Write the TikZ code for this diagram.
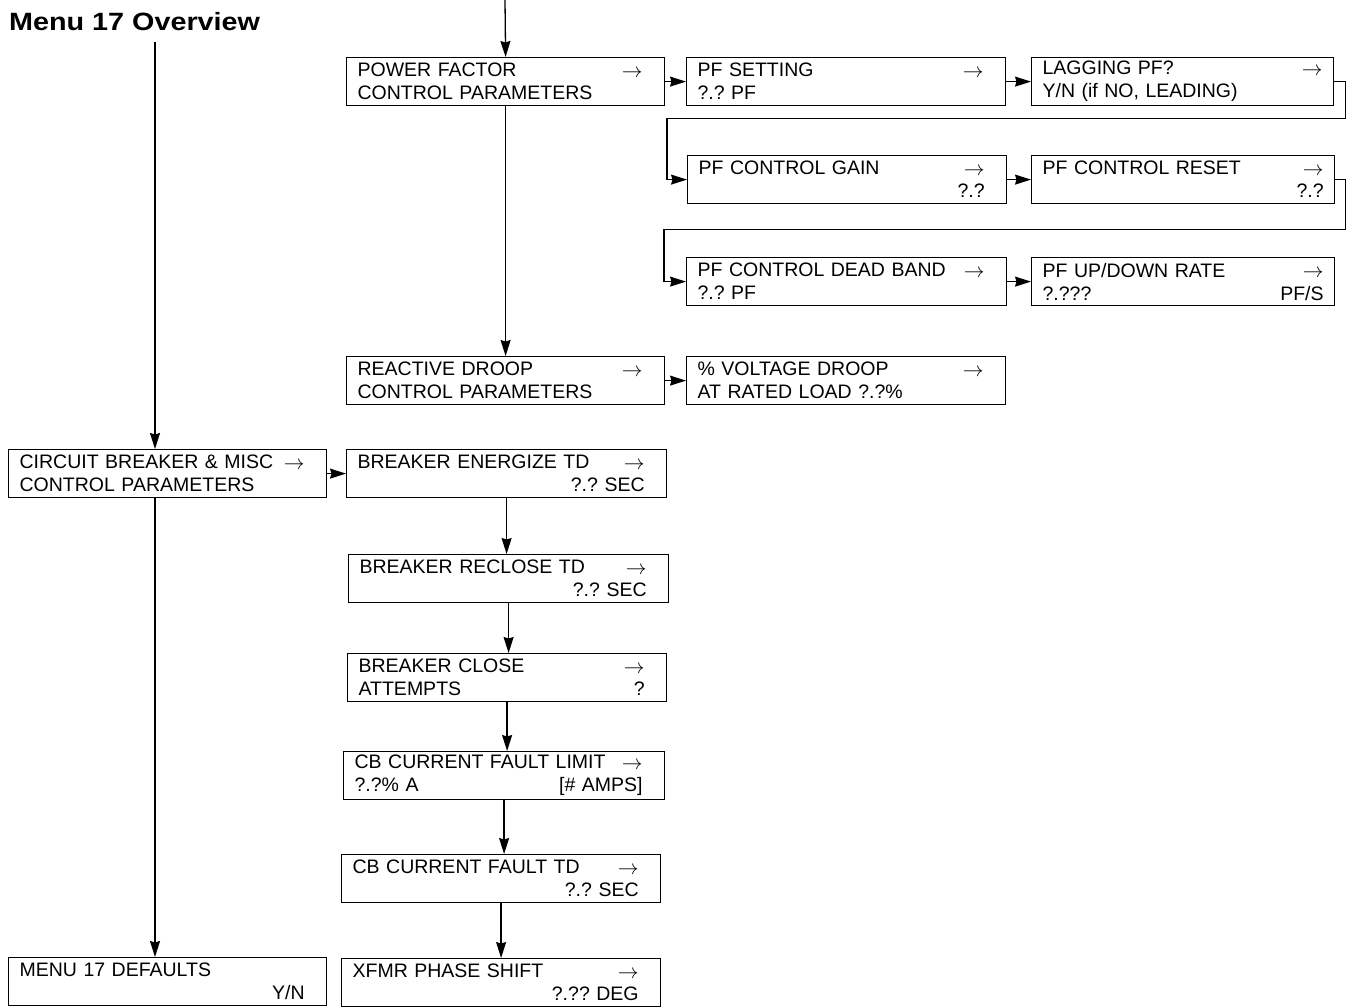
\documentclass[tikz,border=0pt]{standalone}
\usepackage{fontspec}
\setmainfont{Liberation Sans}
\usetikzlibrary{arrows.meta}
\frenchspacing
\newlength{\rpad}
\newcommand{\row}[2]{\hspace*{11pt}#1\hfill#2\kern\rpad}
\newcommand{\ra}{\raisebox{-0.5pt}{$\rightarrow$}}

\begin{document}
\begin{tikzpicture}[
    x=1pt, y=-1pt,
    font=\fontsize{19.5}{23}\selectfont,
    menu/.style={rectangle, draw=black, line width=1.2pt, inner sep=0pt, anchor=north west, minimum height=48pt, text width=#1, align=left, execute at begin node={\frenchspacing\setlength{\rpad}{22pt}}},
    tight/.style={execute at begin node={\frenchspacing\setlength{\rpad}{11pt}}},
    arrow/.style={line width=1.3pt, -{Stealth[length=16pt, width=10pt, inset=1.5pt]}}
]
\useasboundingbox (0,0) rectangle (1351,1007);

% --- Title ---
\node (title) at (9,30) [anchor=base west, font=\bfseries\fontsize{25}{25}\selectfont, inner sep=0pt] {\scalebox{1.15}[1]{Menu 17 Overview}};

% --- Nodes ---
% Power factor branch
\node (pfctrl) at (346,57) [menu=318pt] {\row{POWER FACTOR}{\ra}\\\row{CONTROL PARAMETERS}{}};
\node (pfset) at (686,57) [menu=319pt] {\row{PF SETTING}{\ra}\\\row{?.? PF}{}};
\node (lagpf) at (1031,57) [menu=302pt, tight] {\row{LAGGING PF?}{\ra}\\\row{Y/N (if NO, LEADING)}{}};
\node (pfgain) at (687,155) [menu=319pt] {\row{PF CONTROL GAIN}{\ra}\\\row{}{?.?}};
\node (pfreset) at (1031,155) [menu=303pt, tight] {\row{PF CONTROL RESET}{\ra}\\\row{}{?.?}};
\node (pfband) at (686,257) [menu=320pt] {\row{PF CONTROL DEAD BAND}{\ra}\\\row{?.? PF}{}};
\node (pfrate) at (1031,257) [menu=303pt, tight] {\row{PF UP/DOWN RATE}{\ra}\\\row{?.???}{PF/S}};

% Reactive droop branch
\node (droop) at (346,356) [menu=318pt] {\row{REACTIVE DROOP}{\ra}\\\row{CONTROL PARAMETERS}{}};
\node (vdroop) at (686,356) [menu=319pt] {\row{\% VOLTAGE DROOP}{\ra}\\\row{AT RATED LOAD ?.?\%}{}};

% Circuit breaker branch
\node (cbmisc) at (8,449) [menu=318pt] {\row{CIRCUIT BREAKER \& MISC}{\ra}\\\row{CONTROL PARAMETERS}{}};
\node (energize) at (346,449) [menu=320pt] {\row{BREAKER ENERGIZE TD}{\ra}\\\row{}{?.? SEC}};
\node (reclose) at (348,554) [menu=320pt] {\row{BREAKER RECLOSE TD}{\ra}\\\row{}{?.? SEC}};
\node (attempts) at (347,653) [menu=319pt] {\row{BREAKER CLOSE}{\ra}\\\row{ATTEMPTS}{?}};
\node (faultlim) at (343,751) [menu=321pt] {\row{CB CURRENT FAULT LIMIT}{\ra}\\\row{?.?\% A}{[\# AMPS]}};
\node (faulttd) at (341,854) [menu=319pt] {\row{CB CURRENT FAULT TD}{\ra}\\\row{}{?.? SEC}};
\node (phshift) at (341,958) [menu=319pt] {\row{XFMR PHASE SHIFT}{\ra}\\\row{}{?.?? DEG}};

% Defaults
\node (defaults) at (8,957) [menu=318pt] {\row{MENU 17 DEFAULTS}{}\\\row{}{Y/N}};

% --- Edges ---
\coordinate (entry) at (505,0);
\coordinate (menuin) at (155,42);
\draw [arrow] (entry) -- (pfctrl.north);
\draw [arrow] (pfctrl) -- (pfset);
\draw [arrow] (pfset) -- (lagpf);
\draw [arrow] (lagpf.east) -- ++(11,0) -- ++(0,37) -| ([xshift=-20pt]pfgain.west) -- (pfgain.west);
\draw [arrow] (pfgain) -- (pfreset);
\draw [arrow] (pfreset.east) -- ++(10,0) -- ++(0,50) -| ([xshift=-22pt]pfband.west) -- (pfband.west);
\draw [arrow] (pfband) -- (pfrate);

\draw [arrow] (pfctrl) -- (droop);
\draw [arrow] (droop) -- (vdroop);

\draw [arrow] (menuin) -- (menuin |- cbmisc.north);
\draw [arrow] (cbmisc) -- (energize);
\draw [arrow] (energize.south) -- (energize.south |- reclose.north);
\draw [arrow] (reclose.south) -- (reclose.south |- attempts.north);
\draw [arrow] (attempts.south) -- (attempts.south |- faultlim.north);
\draw [arrow] (faultlim.south) -- (faultlim.south |- faulttd.north);
\draw [arrow] (faulttd.south) -- (faulttd.south |- phshift.north);
\draw [arrow] (cbmisc.south -| menuin) -- (defaults.north -| menuin);

\end{tikzpicture}
\end{document}
